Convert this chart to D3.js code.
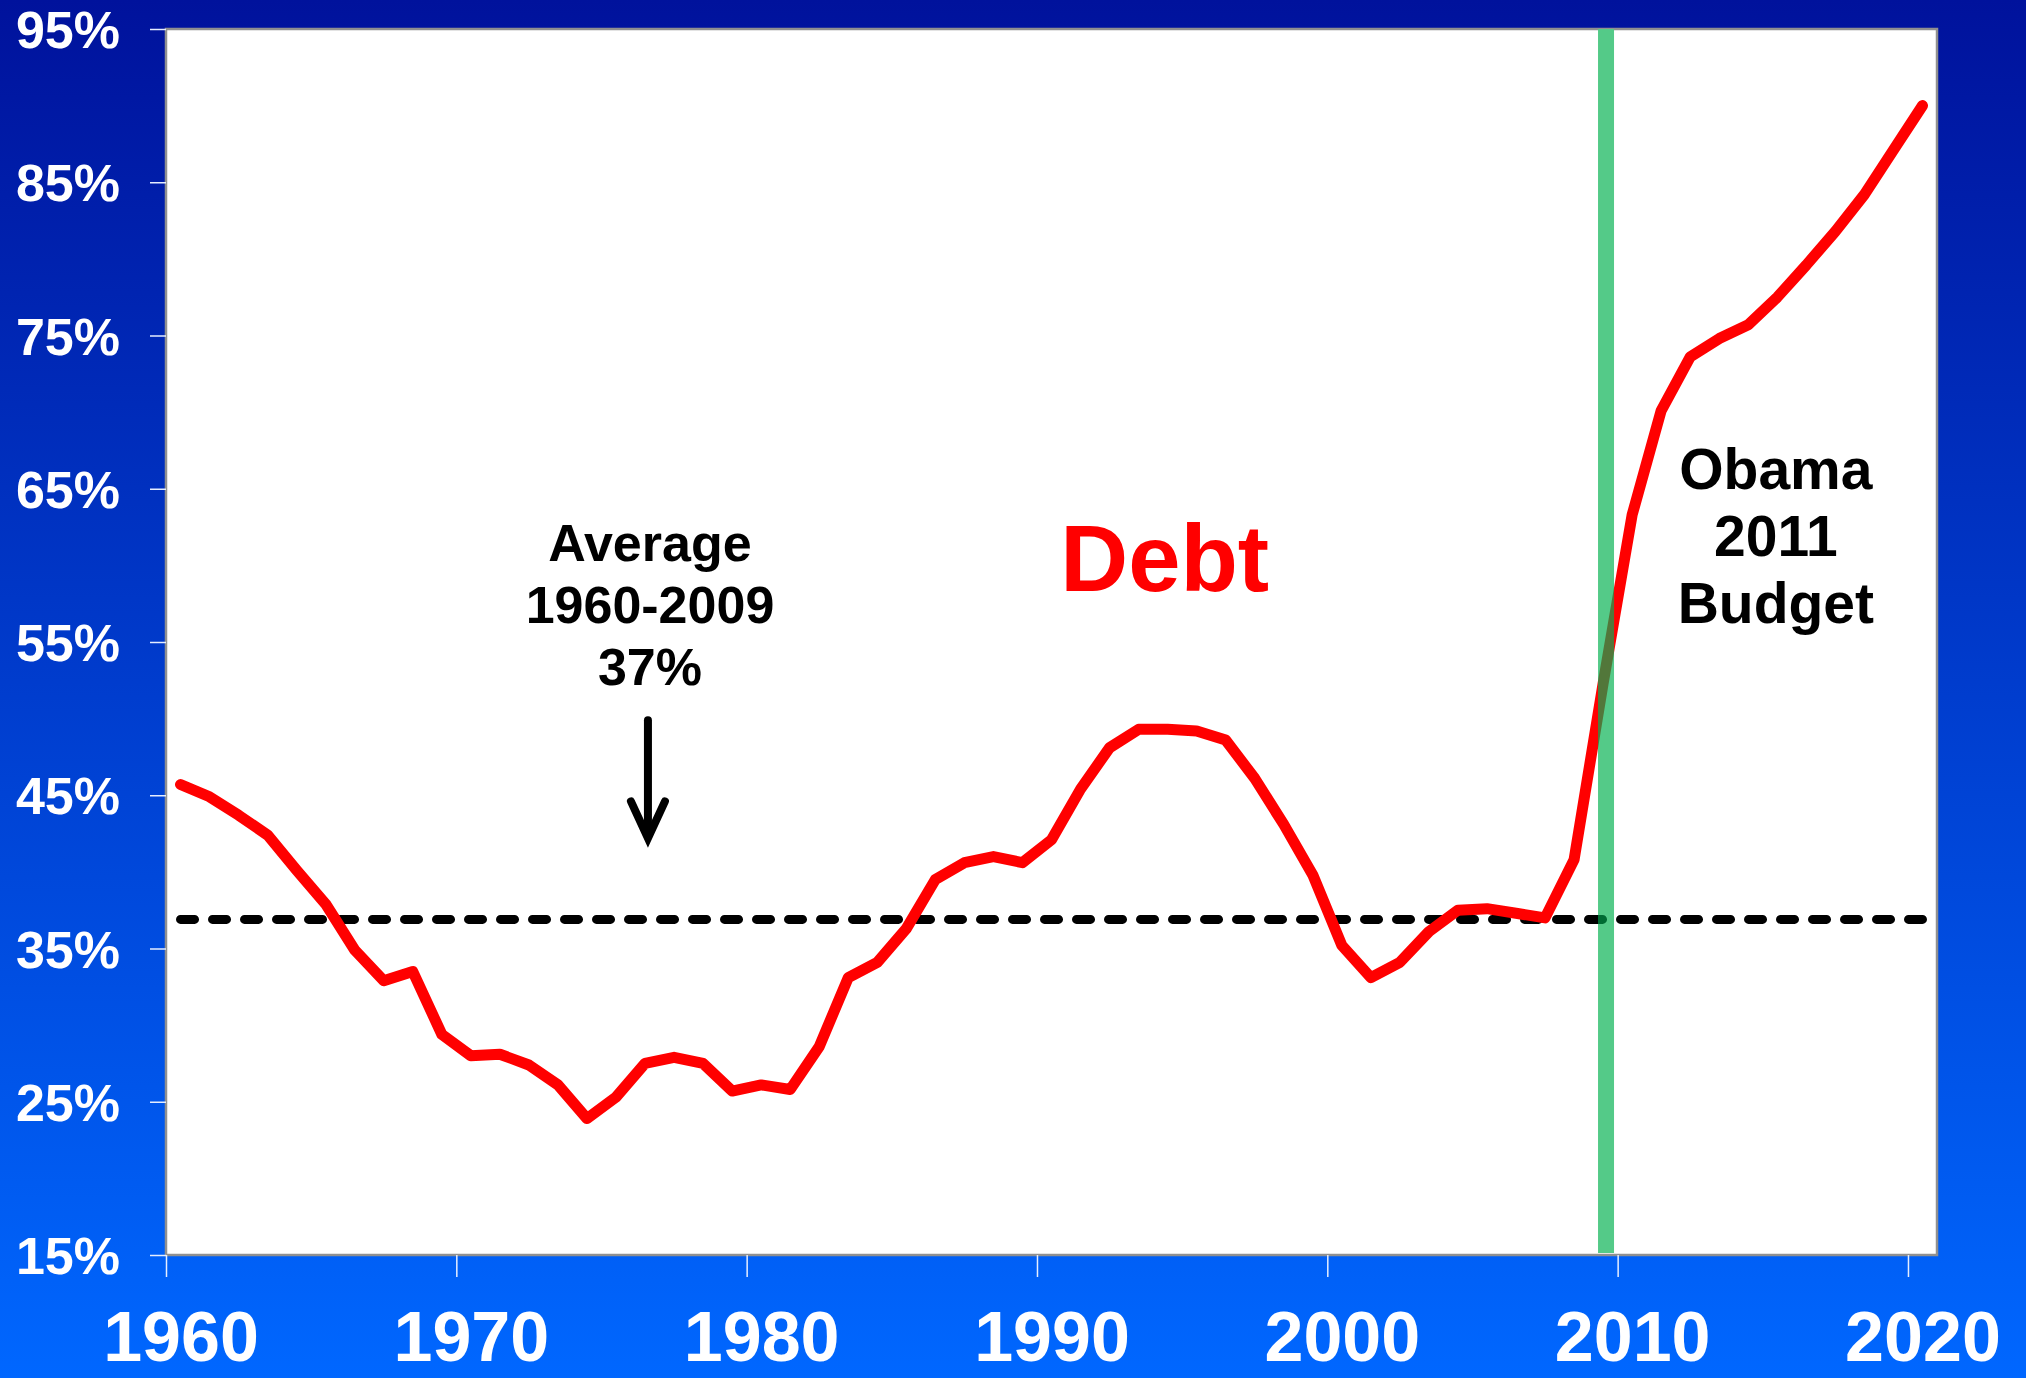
<!DOCTYPE html>
<html lang="en">
    <head>
        <meta charset="UTF-8">
        <title>Debt chart</title>
        <script src="https://d3js.org/d3.v7.min.js"></script>
    </head>

    <style>
        body {
            margin: 0;
            overflow: hidden;
        }

        text {
            font-family: "Liberation Sans", Arial, sans-serif;
            font-weight: bold;
        }

        .axis text {
            fill: white;
        }

        .axis line {
            stroke: #e6eeff;
            stroke-width: 1.5px;
        }

        .debt {
            fill: none;
            stroke: #ff0000;
            stroke-width: 11px;
            stroke-linejoin: round;
            stroke-linecap: round;
        }

        .average {
            fill: none;
            stroke: black;
            stroke-width: 9px;
            stroke-dasharray: 14 18;
            stroke-linecap: round;
        }
    </style>
    <body>
        <svg id="chart" width="2026" height="1378"></svg>

        <script>
            // debt as % of GDP
            const years = d3.range(1960, 2021);
            const debt = [45.7, 44.9, 43.7, 42.4, 40.1, 37.9, 34.9, 32.9, 33.5, 29.4,
                          28.0, 28.1, 27.4, 26.1, 23.9, 25.3, 27.5, 27.9, 27.5, 25.7,
                          26.1, 25.8, 28.6, 33.1, 34.1, 36.3, 39.5, 40.6, 41.0, 40.6,
                          42.1, 45.4, 48.1, 49.3, 49.3, 49.2, 48.6, 46.1, 43.1, 39.8,
                          35.2, 33.1, 34.1, 36.1, 37.5, 37.6, 37.3, 37.0, 40.8, 52.3,
                          63.3, 70.1, 73.6, 74.8, 75.7, 77.5, 79.6, 81.8, 84.2, 87.1,
                          90.0];
            const average = 36.9;
            const yTicks = [15, 25, 35, 45, 55, 65, 75, 85, 95];
            const xTicks = [1960, 1970, 1980, 1990, 2000, 2010, 2020];
            const budgetYear = 2009.6;   // green marker

            const svg = d3.select("#chart");
            const width = +svg.attr("width");
            const height = +svg.attr("height");

            // background gradient
            const grad = svg.append("defs").append("linearGradient")
                .attr("id", "bg").attr("x1", 0).attr("y1", 0).attr("x2", 0).attr("y2", 1);
            grad.append("stop").attr("offset", "0%").attr("stop-color", "#00129c");
            grad.append("stop").attr("offset", "100%").attr("stop-color", "#0067ff");
            svg.append("rect").attr("width", width).attr("height", height).attr("fill", "url(#bg)");

            const x = d3.scaleLinear().domain([1960, 2021]).range([166, 1937]);
            const y = d3.scaleLinear().domain([15, 95]).range([1255, 29]);
            const half = x(1960.5) - x(1960);

            // plot area
            svg.append("rect")
                .attr("x", x(1960)).attr("y", y(95))
                .attr("width", x(2021) - x(1960)).attr("height", y(15) - y(95))
                .attr("fill", "white")
                .attr("stroke", "#909090")
                .attr("stroke-width", 2.5);

            // axes
            const yAxis = svg.append("g")
                .attr("class", "axis")
                .attr("transform", `translate(${x(1960)},0)`)
                .call(d3.axisLeft(y).tickValues(yTicks).tickSize(16).tickPadding(30).tickFormat(d => d + "%"));
            yAxis.select(".domain").remove();
            yAxis.selectAll("text").style("font-size", "52px").attr("dy", "0.36em");

            const xAxis = svg.append("g")
                .attr("class", "axis")
                .attr("transform", `translate(0,${y(15)})`)
                .call(d3.axisBottom(x).tickValues(xTicks).tickSize(22).tickFormat(d3.format("d")));
            xAxis.select(".domain").remove();
            xAxis.selectAll("text")
                .style("font-size", "70px")
                .attr("x", half)
                .attr("y", 106)
                .attr("dy", null);

            // series
            const pts = years.map((yr, i) => ({year: yr, value: debt[i]}));
            const line = d3.line().x(d => x(d.year + 0.5)).y(d => y(d.value));
            const avgLine = d3.line().x(d => x(d + 0.5)).y(() => y(average));

            svg.append("path").datum(years).attr("class", "average").attr("d", avgLine);
            svg.append("path").datum(pts).attr("class", "debt").attr("d", line);

            // green budget marker, darker where it crosses the lines
            const barW = 16;
            svg.append("rect")
                .attr("x", x(budgetYear) - barW / 2).attr("y", y(95))
                .attr("width", barW).attr("height", y(15) - y(95) - 2)
                .attr("fill", "#54ca88");

            svg.select("defs").append("clipPath").attr("id", "barclip")
                .append("rect")
                .attr("x", x(budgetYear) - barW / 2).attr("y", y(95))
                .attr("width", barW).attr("height", y(15) - y(95));
            const over = svg.append("g").attr("clip-path", "url(#barclip)");
            over.append("path").datum(years).attr("class", "average")
                .style("stroke", "#006b33").attr("d", avgLine);
            over.append("path").datum(pts).attr("class", "debt")
                .style("stroke", "#52773a").attr("d", line);

            // annotations
            const avgLabel = ["Average", "1960-2009", "37%"];
            svg.append("g").selectAll("text").data(avgLabel)
                .join("text")
                .attr("x", x(1976.67))
                .attr("y", (d, i) => y(60.3) + i * 62)
                .attr("text-anchor", "middle")
                .style("font-size", "52px")
                .text(d => d);

            // arrow
            const ax = x(1976.6);
            svg.append("path")
                .attr("d", `M${ax},${y(49.9)} L${ax},${y(42.6)}`)
                .attr("stroke", "black").attr("stroke-width", 8).attr("stroke-linecap", "round");
            svg.append("path")
                .attr("d", `M${ax - 17},${y(44.6)} L${ax},${y(42.2)} L${ax + 17},${y(44.6)}`)
                .attr("fill", "none")
                .attr("stroke", "black").attr("stroke-width", 8)
                .attr("stroke-linecap", "round").attr("stroke-linejoin", "miter");

            svg.append("text")
                .attr("x", x(1994.4))
                .attr("y", y(58.3))
                .attr("text-anchor", "middle")
                .attr("fill", "#ff0000")
                .style("font-size", "94px")
                .text("Debt");

            const obamaLabel = ["Obama", "2011", "Budget"];
            svg.append("g").selectAll("text").data(obamaLabel)
                .join("text")
                .attr("x", x(2015.45))
                .attr("y", (d, i) => y(65.0) + i * 67)
                .attr("text-anchor", "middle")
                .style("font-size", "57px")
                .text(d => d);
        </script>
    </body>
</html>
